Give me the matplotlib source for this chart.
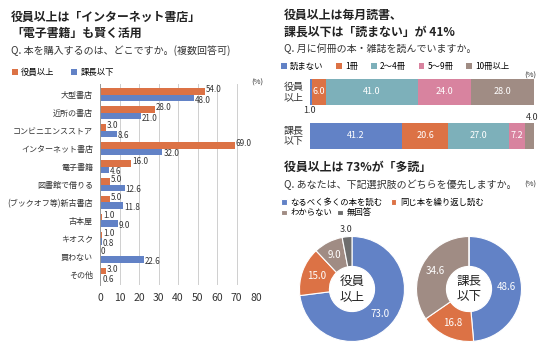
import numpy as np
import matplotlib
matplotlib.use("Agg")
import matplotlib.pyplot as plt

plt.rcParams['font.family'] = ['Noto Sans CJK JP', 'DejaVu Sans']

# ---- data ----
places = ['大型書店', '近所の書店', 'コンビニエンスストア', 'インターネット書店', '電子書籍',
          '図書館で借りる', '(ブックオフ等)新古書店', '古本屋', 'キオスク', '買わない', 'その他']
exec_buy = [54.0, 28.0, 3.0, 69.0, 16.0, 5.0, 5.0, 1.0, 1.0, 0, 3.0]
staff_buy = [48.0, 21.0, 8.6, 32.0, 4.6, 12.6, 11.8, 9.0, 0.8, 22.6, 0.6]

read_cats = ['読まない', '1冊', '2～4冊', '5～9冊', '10冊以上']
read_groups = ['役員\n以上', '課長\n以下']
exec_read = [1.0, 6.0, 41.0, 24.0, 28.0]
staff_read = [41.2, 20.6, 27.0, 7.2, 4.0]

pref_cats = ['なるべく多くの本を読む', '同じ本を繰り返し読む', 'わからない', '無回答']
exec_pref = [73.0, 15.0, 9.0, 3.0]
staff_pref = [48.6, 16.8, 34.6, 0.0]

ORANGE = '#dc7245'
BLUE = '#6282c6'
TEAL = '#7db0ba'
PINK = '#d8839f'
BROWN = '#a08c84'
DARK = '#6e6e6e'
TXT = '#333333'

W, H = 550, 348
fig = plt.figure(figsize=(W / 100, H / 100), dpi=100)


def px_axes(x0, y0, x1, y1):
    return fig.add_axes([x0 / W, 1 - y1 / H, (x1 - x0) / W, (y1 - y0) / H])


def ftext(x, y, s, **kw):
    kw.setdefault('va', 'center')
    kw.setdefault('color', TXT)
    fig.text(x / W, 1 - y / H, s, **kw)


# ---- left: where do you buy books ----
ftext(11, 17, '役員以上は「インターネット書店」', fontsize=8.6, fontweight='bold', color='#222222')
ftext(11, 33, '「電子書籍」も賢く活用', fontsize=8.6, fontweight='bold', color='#222222')
ftext(11, 51, 'Q. 本を購入するのは、どこですか。(複数回答可)', fontsize=7.2)
ftext(251, 83, '(%)', fontsize=5.5)

ax1 = px_axes(100, 84, 256, 285)
y = np.arange(len(places))
h = 0.35
b_exec = ax1.barh(y - h / 2, exec_buy, height=h, color=ORANGE, label='役員以上')
b_staff = ax1.barh(y + h / 2, staff_buy, height=h, color=BLUE, label='課長以下')
for i in range(len(places)):
    ax1.text(exec_buy[i] + 0.5, y[i] - h / 2 - 0.1, f'{exec_buy[i]:.1f}' if exec_buy[i] else '0',
             fontsize=5.8, va='center', ha='left', color=TXT)
    ax1.text(staff_buy[i] + 0.5, y[i] + h / 2 + 0.12, f'{staff_buy[i]:.1f}',
             fontsize=5.8, va='center', ha='left', color=TXT)
ax1.set_xlim(0, 80)
ax1.set_ylim(len(places) - 0.4, -0.6)
ax1.set_yticks(y)
ax1.set_yticklabels(places, fontsize=5.8, color=TXT)
ax1.set_xticks(range(0, 81, 10))
ax1.tick_params(axis='x', labelsize=7.5, colors=TXT, length=0, pad=6)
ax1.tick_params(axis='y', length=0, pad=5)
ax1.xaxis.grid(True, color='#cfcfcf', linewidth=0.7)
ax1.set_axisbelow(True)
for s in ['top', 'right', 'bottom']:
    ax1.spines[s].set_visible(False)
ax1.spines['left'].set_color('#999999')
ax1.spines['left'].set_linewidth(0.7)

fig.legend(handles=[b_exec, b_staff], loc='center left', bbox_to_anchor=(12 / W, 1 - 72 / H),
           ncol=2, frameon=False, fontsize=6, handlelength=0.7, handleheight=0.7,
           handletextpad=0.4, columnspacing=2.0, borderpad=0, borderaxespad=0)

# ---- right top: books per month ----
ftext(284, 15, '役員以上は毎月読書、', fontsize=8.6, fontweight='bold', color='#222222')
ftext(284, 32, '課長以下は「読まない」が 41%', fontsize=8.6, fontweight='bold', color='#222222')
ftext(284, 49, 'Q. 月に何冊の本・雑誌を読んでいますか。', fontsize=7.2)
ftext(524, 76, '(%)', fontsize=5.5)

ax2 = px_axes(310, 70, 534, 158)
read_colors = [BLUE, ORANGE, TEAL, PINK, BROWN]
rows = [exec_read, staff_read]
handles2 = []
for j in range(len(read_cats)):
    vals = [r[j] for r in rows]
    lefts = [sum(r[:j]) for r in rows]
    bc = ax2.barh([0, 1], vals, left=lefts, height=0.57, color=read_colors[j], label=read_cats[j])
    handles2.append(bc)
    for k in range(2):
        if vals[k] >= 5:
            ax2.text(lefts[k] + vals[k] / 2, k, f'{vals[k]:.1f}', ha='center', va='center',
                     fontsize=6.5, color='white')
ax2.text(0, 0.41, f'{exec_read[0]:.1f}', ha='center', va='center', fontsize=6.5, color=TXT)
ax2.text(99.0, 0.57, f'{staff_read[-1]:.1f}', ha='center', va='center', fontsize=6.5, color=TXT)
ax2.set_xlim(0, 100)
ax2.set_ylim(1.5, -0.5)
ax2.axis('off')
for k, g in enumerate(read_groups):
    ftext(294, 92 + 44 * k, g, fontsize=7.2, ha='center', linespacing=1.1)

fig.legend(handles=handles2, loc='center left', bbox_to_anchor=(281 / W, 1 - 66 / H),
           ncol=5, frameon=False, fontsize=6, handlelength=0.7, handleheight=0.7,
           handletextpad=0.4, columnspacing=1.5, borderpad=0, borderaxespad=0)

# ---- right bottom: donuts ----
ftext(284, 167, '役員以上は 73%が「多読」', fontsize=8.6, fontweight='bold', color='#222222')
ftext(284, 185, 'Q. あなたは、下記選択肢のどちらを優先しますか。', fontsize=7.2)
ftext(524, 185, '(%)', fontsize=5.5)

pref_colors = [BLUE, ORANGE, BROWN, DARK]
donut_handles = None
for cx, vals, name in [(352, exec_pref, '役員\n以上'), (469, staff_pref, '課長\n以下')]:
    r = 52.5
    ax = px_axes(cx - r, 289 - r, cx + r, 289 + r)
    wedges, _ = ax.pie(vals, colors=pref_colors, startangle=90, counterclock=False,
                       radius=1, wedgeprops=dict(width=0.57, edgecolor='white', linewidth=0.8))
    if donut_handles is None:
        donut_handles = wedges
    for w, v in zip(wedges, vals):
        if v == 0:
            continue
        ang = np.deg2rad((w.theta1 + w.theta2) / 2)
        if v < 5:
            ax.text(1.14 * np.cos(ang), 1.14 * np.sin(ang), f'{v:.1f}', ha='center',
                    va='center', fontsize=6.5, color=TXT)
        else:
            ax.text(0.72 * np.cos(ang), 0.72 * np.sin(ang), f'{v:.1f}', ha='center',
                    va='center', fontsize=7, color='white')
    ax.text(0, 0, name, ha='center', va='center', fontsize=9, color='#222222', linespacing=1.15)
    ax.set_xlim(-1, 1)
    ax.set_ylim(-1, 1)
    ax.set_aspect('equal')

fig.legend(handles=list(donut_handles[:2]), labels=pref_cats[:2], loc='center left',
           bbox_to_anchor=(281 / W, 1 - 202 / H), ncol=2, frameon=False, fontsize=6,
           handlelength=0.7, handleheight=0.7, handletextpad=0.4, columnspacing=1.0,
           borderpad=0, borderaxespad=0)
fig.legend(handles=list(donut_handles[2:]), labels=pref_cats[2:], loc='center left',
           bbox_to_anchor=(281 / W, 1 - 213 / H), ncol=2, frameon=False, fontsize=6,
           handlelength=0.7, handleheight=0.7, handletextpad=0.4, columnspacing=0.6,
           borderpad=0, borderaxespad=0)

fig.savefig('out.png', dpi=100)
